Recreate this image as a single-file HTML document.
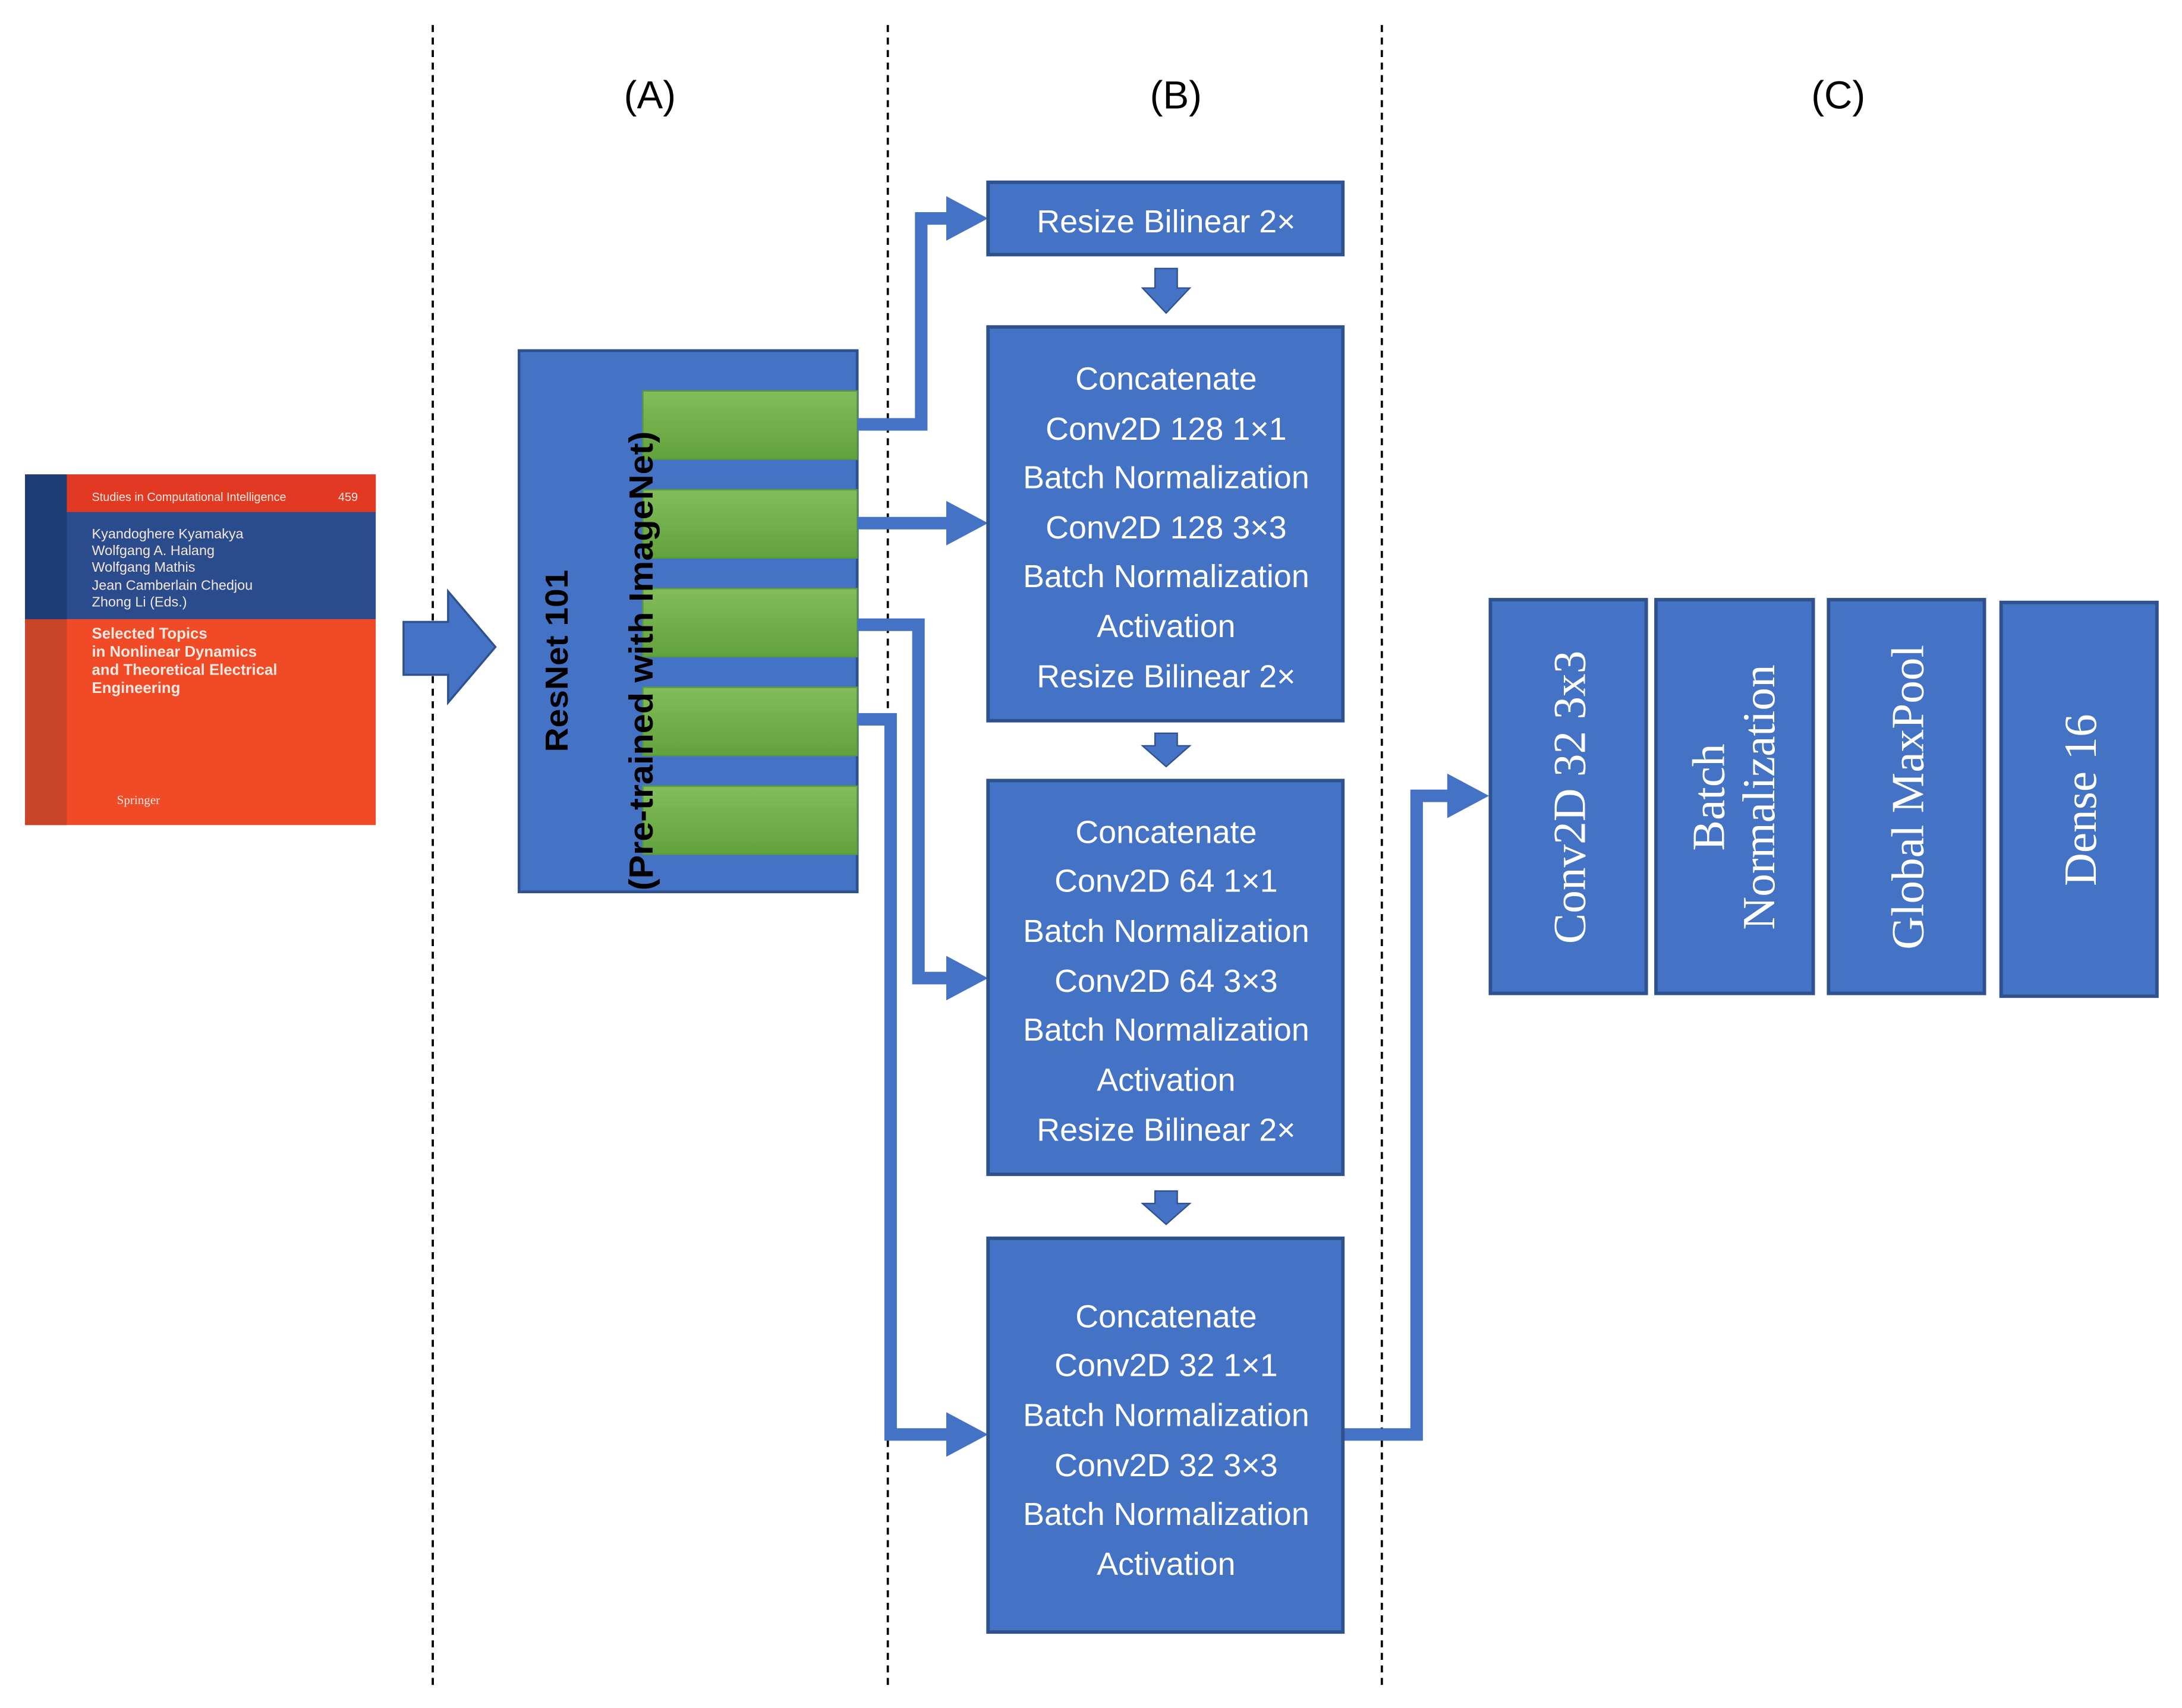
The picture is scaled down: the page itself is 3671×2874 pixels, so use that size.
<!DOCTYPE html>
<html><head><meta charset="utf-8"><style>html,body{margin:0;padding:0;background:#fff}svg{display:block}</style></head>
<body>
<svg width="3671" height="2874" viewBox="0 0 1568 1227.6" preserveAspectRatio="none" xmlns="http://www.w3.org/2000/svg">
<defs><linearGradient id="g" x1="0" y1="0" x2="0" y2="1"><stop offset="0" stop-color="#82bd5a"/><stop offset="1" stop-color="#62a23c"/></linearGradient></defs>
<rect width="1568" height="1228" fill="#fff"/>
<g stroke="#000" stroke-width="1.6" stroke-dasharray="5,4">
<line x1="311" y1="18" x2="311" y2="1212"/><line x1="638" y1="18" x2="638" y2="1212"/><line x1="993" y1="18" x2="993" y2="1212"/>
</g>
<g font-family="Liberation Sans, sans-serif" font-size="28" text-anchor="middle" fill="#000">
<text x="467" y="78">(A)</text><text x="845" y="78">(B)</text><text x="1321" y="78">(C)</text>
</g>
<!-- book -->
<rect x="18" y="341" width="252" height="252" fill="#f04a26"/>
<rect x="18" y="341" width="30" height="252" fill="#c8452a"/>
<rect x="18" y="341" width="252" height="104" fill="#2a4b8c"/>
<rect x="48" y="341" width="222" height="27" fill="#e23a22"/>
<rect x="18" y="341" width="30" height="104" fill="#1d3d74"/>
<g font-family="Liberation Sans, sans-serif" fill="#f4e8e0">
<text x="66" y="360" font-size="8.5">Studies in Computational Intelligence</text><text x="243" y="360" font-size="8.5">459</text>
<text x="66" y="387" font-size="10">Kyandoghere Kyamakya</text>
<text x="66" y="399" font-size="10">Wolfgang A. Halang</text>
<text x="66" y="411" font-size="10">Wolfgang Mathis</text>
<text x="66" y="424" font-size="10">Jean Camberlain Chedjou</text>
<text x="66" y="436" font-size="10">Zhong Li (Eds.)</text>
<g font-weight="bold" font-size="11"><text x="66" y="459">Selected Topics</text><text x="66" y="472">in Nonlinear Dynamics</text><text x="66" y="485">and Theoretical Electrical</text><text x="66" y="498">Engineering</text></g>
<text x="84" y="578" font-size="9" font-family="Liberation Serif, serif">Springer</text>
</g>
<!-- big arrow -->
<polygon points="290,447 322,447 322,425 356,465 322,505 322,485 290,485" fill="#4472C4" stroke="#2F528F" stroke-width="1.5"/>
<!-- resnet -->
<rect x="373" y="252" width="243" height="389" fill="#4472C4" stroke="#2F528F" stroke-width="2"/>
<g fill="url(#g)" stroke="#5a9a3a" stroke-width="1">
<rect x="462" y="281" width="154" height="49"/><rect x="462" y="352" width="154" height="49"/><rect x="462" y="423" width="154" height="49"/><rect x="462" y="494" width="154" height="49"/><rect x="462" y="565" width="154" height="49"/>
</g>
<g font-family="Liberation Sans, sans-serif" font-weight="bold" fill="#000" text-anchor="middle">
<text transform="translate(408,475) rotate(-90)" font-size="23" textLength="131" lengthAdjust="spacingAndGlyphs">ResNet 101</text>
<text transform="translate(469,475) rotate(-90)" font-size="24" textLength="330" lengthAdjust="spacingAndGlyphs">(Pre-trained with ImageNet)</text>
</g>
<!-- connectors -->
<g fill="none" stroke="#4472C4" stroke-width="9">
<polyline points="616,305 662,305 662,157 682,157"/>
<polyline points="616,376 682,376"/>
<polyline points="616,449 660,449 660,703 682,703"/>
<polyline points="616,517 640,517 640,1031 682,1031"/>
<polyline points="965,1031 1018,1031 1018,572 1042,572"/>
</g>
<g fill="#4472C4">
<polygon points="680,141 710,157 680,173"/>
<polygon points="680,360 710,376 680,392"/>
<polygon points="680,687 710,703 680,719"/>
<polygon points="680,1015 710,1031 680,1047"/>
<polygon points="1040,556 1070,572 1040,588"/>
<polygon points="830,193 846,193 846,207 855,207 838,225 821,207 830,207" stroke="#2F528F" stroke-width="1"/>
<polygon points="830,527 846,527 846,536 855,536 838,551 821,536 830,536" stroke="#2F528F" stroke-width="1"/>
<polygon points="830,856 846,856 846,865 855,865 838,880 821,865 830,865" stroke="#2F528F" stroke-width="1"/>
</g>
<!-- B boxes -->
<g fill="#4472C4" stroke="#2F528F" stroke-width="2.5">
<rect x="710" y="131" width="255" height="52"/><rect x="710" y="235" width="255" height="283"/><rect x="710" y="561" width="255" height="283"/><rect x="710" y="890" width="255" height="283"/>
</g>
<g font-family="Liberation Sans, sans-serif" font-size="23" fill="#fff" text-anchor="middle">
<text x="838" y="167">Resize Bilinear 2×</text>
<text x="838" y="280">Concatenate</text><text x="838" y="316">Conv2D 128 1×1</text><text x="838" y="351">Batch Normalization</text><text x="838" y="387">Conv2D 128 3×3</text><text x="838" y="422">Batch Normalization</text><text x="838" y="458">Activation</text><text x="838" y="494">Resize Bilinear 2×</text>
<text x="838" y="606">Concatenate</text><text x="838" y="641">Conv2D 64 1×1</text><text x="838" y="677">Batch Normalization</text><text x="838" y="713">Conv2D 64 3×3</text><text x="838" y="748">Batch Normalization</text><text x="838" y="784">Activation</text><text x="838" y="820">Resize Bilinear 2×</text>
<text x="838" y="954">Concatenate</text><text x="838" y="989">Conv2D 32 1×1</text><text x="838" y="1025">Batch Normalization</text><text x="838" y="1061">Conv2D 32 3×3</text><text x="838" y="1096">Batch Normalization</text><text x="838" y="1132">Activation</text>
</g>
<!-- C boxes -->
<g fill="#4472C4" stroke="#2F528F" stroke-width="2.5">
<rect x="1071" y="431" width="112" height="283"/><rect x="1190" y="431" width="113" height="283"/><rect x="1314" y="431" width="112" height="283"/><rect x="1438" y="433" width="112" height="283"/>
</g>
<g font-family="Liberation Serif, serif" font-size="33" fill="#fff" text-anchor="middle">
<text transform="translate(1139,573) rotate(-90)">Conv2D 32 3x3</text>
<text transform="translate(1239,573) rotate(-90)">Batch</text>
<text transform="translate(1275,573) rotate(-90)">Normalization</text>
<text transform="translate(1382,573) rotate(-90)">Global MaxPool</text>
<text transform="translate(1506,575) rotate(-90)">Dense 16</text>
</g>
</svg>
</body></html>
